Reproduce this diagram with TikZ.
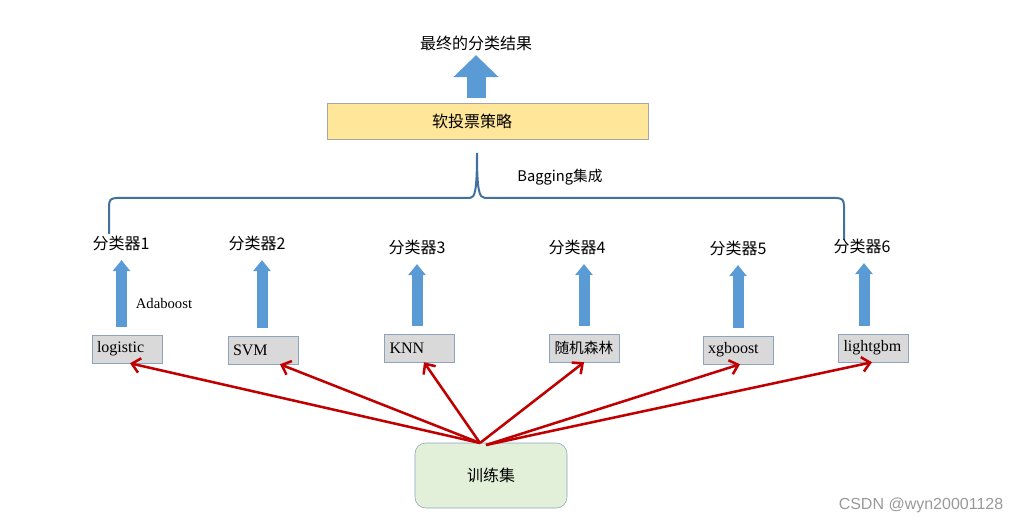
\documentclass[tikz,border=0pt]{standalone}
\usepackage{fontspec}
\setmainfont{Liberation Serif}
\setsansfont{Liberation Sans}
\newfontfamily\cjk{Noto Sans CJK SC}
\usetikzlibrary{arrows.meta,positioning,calc}
\definecolor{arrblue}{HTML}{5B9BD5}
\definecolor{braceblue}{HTML}{41719C}
\definecolor{voteyellow}{HTML}{FFE699}
\definecolor{boxgray}{HTML}{D9D9D9}
\definecolor{boxedge}{HTML}{8EA3BE}
\definecolor{trainfill}{HTML}{E2F0D9}
\definecolor{redline}{HTML}{C00000}

\begin{document}
\begin{tikzpicture}[x=0.75pt,y=-0.75pt,
  zh/.style={font=\cjk\fontsize{12pt}{14pt}\selectfont},
  vote/.style={draw=black!35,fill=voteyellow,minimum width=240.75pt,minimum height=27pt,inner sep=0pt},
  model/.style={draw=boxedge,fill=boxgray,text width=45pt,inner xsep=3.75pt,minimum height=21pt,align=left,font=\fontsize{12pt}{14pt}\selectfont},
  train/.style={draw=boxedge,fill=trainfill,rounded corners=8pt,minimum width=114pt,minimum height=48.75pt},
  blk/.style={arrblue,line width=8.25pt,-{Triangle[length=8.25pt,width=12.75pt]},shorten <=6pt,shorten >=3.75pt},
  bigblk/.style={arrblue,line width=14.25pt,-{Triangle[length=16.5pt,width=33pt]},shorten <=3.75pt},
  feed/.style={redline,line width=1.9pt,-{Straight Barb[length=6pt,width=11pt]}}]
  \useasboundingbox (0,0) rectangle (1022,524);

  % top: result and soft voting
  \node[zh] (res) at (476,43) {最终的分类结果};
  \node[vote] (vote) at (487.5,121) {};
  \node[zh] (votet) at (472,121) {软投票策略};
  \draw[bigblk] (res.south |- vote.north) -- (res.south);

  % bagging brace
  \draw[braceblue,line width=1.5pt] (109,234) -- (109,206) .. controls (109,200) and (111,198) .. (117,198)
    -- (470,198) .. controls (475,198) and (477,190) .. (477,153)
    .. controls (477,190) and (479,198) .. (485,198) -- (836,198)
    .. controls (842,198) and (844,200) .. (844,206) -- (844,240);
  \node[zh,font=\cjk\fontsize{11pt}{13pt}\selectfont] (bag) at (560,177) {Bagging集成};
  \node[font=\fontsize{11pt}{13pt}\selectfont] (ada) at (164,303) {Adaboost};

  \node[train,zh] (train) at (491,475.5) {训练集};
  \coordinate (s1) at (480,443);
  \coordinate (s2) at (486,445);

  \foreach \i/\lx/\ly/\bx/\by/\ax/\ex/\t in {
    1/121/243/127/349/121.5/130/logistic,
    2/257/243/263/350/262/280/SVM,
    3/417/247/419.5/348/417/424/KNN,
    4/577/247/584.5/348/584/584/{\cjk\fontsize{11pt}{13pt}\selectfont 随机森林},
    5/738/248/738/350/738/740/xgboost,
    6/862/246/873.5/348/864/872/lightgbm}{
    \node[zh] (c\i) at (\lx,\ly) {分类器\i};
    \node[model] (m\i) at (\bx,\by) {\t};
    \coordinate (a\i) at (\ax,0);
    \coordinate (e\i) at (\ex,0);
    \draw[blk] (m\i.north -| a\i) -- (c\i.south -| a\i);
  }
  \foreach \i/\s in {1/s1,2/s1,3/s1,4/s1,5/s2,6/s2}
    \draw[feed] (\s) -- (m\i.south -| e\i);

  \node[font=\sffamily\fontsize{12pt}{14pt}\selectfont,text=black!40] (mark) at (921,505) {CSDN @wyn20001128};
\end{tikzpicture}
\end{document}
